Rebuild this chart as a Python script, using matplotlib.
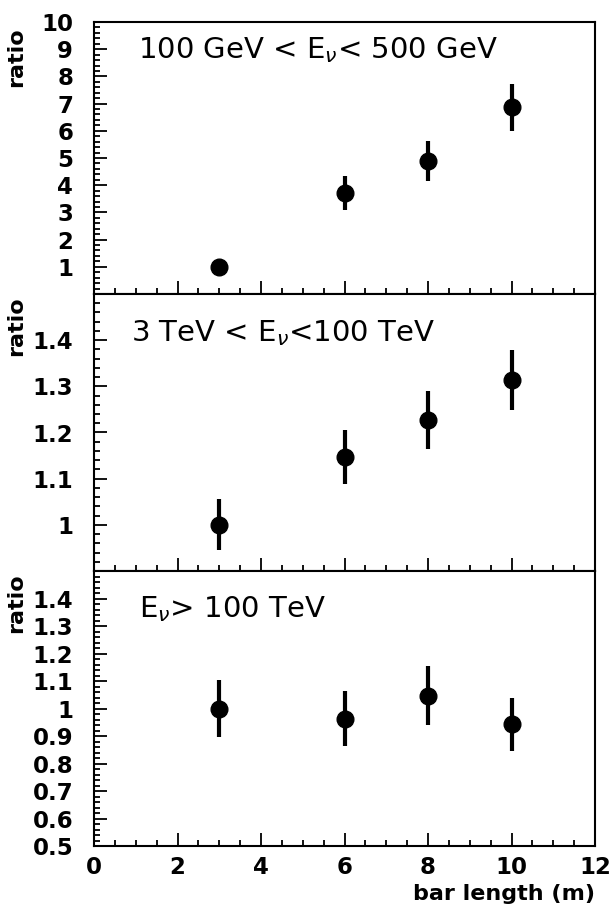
import matplotlib
matplotlib.use('Agg')
import matplotlib.pyplot as plt
from matplotlib.ticker import MultipleLocator, FixedLocator, FixedFormatter
import numpy as np

# bar length in m
bar_length = [3, 6, 8, 10]

# 100 GeV < E_nu < 500 GeV
ratio_low = [1.0, 3.7, 4.9, 6.86]
err_low = [0.0, 0.63, 0.73, 0.86]

# 3 TeV < E_nu < 100 TeV
ratio_mid = [1.0, 1.147, 1.227, 1.313]
err_mid = [0.055, 0.059, 0.063, 0.065]

# E_nu > 100 TeV
ratio_high = [1.0, 0.962, 1.047, 0.942]
err_high = [0.105, 0.1, 0.107, 0.097]

x_ticks = [0, 2, 4, 6, 8, 10, 12]
low_ticks = [1, 2, 3, 4, 5, 6, 7, 8, 9, 10]
mid_ticks = [1.0, 1.1, 1.2, 1.3, 1.4]
mid_labels = ['1', '1.1', '1.2', '1.3', '1.4']
high_ticks = [0.5, 0.6, 0.7, 0.8, 0.9, 1.0, 1.1, 1.2, 1.3, 1.4]
high_labels = ['0.5', '0.6', '0.7', '0.8', '0.9', '1', '1.1', '1.2', '1.3', '1.4']

plt.rcParams['font.family'] = ['DejaVu Sans']
plt.rcParams['mathtext.fontset'] = 'dejavusans'

fig = plt.figure(figsize=(6.14, 9.05), dpi=100)
W, H = 614.0, 905.0
left, right = 94 / W, 595 / W
panels = [(22, 294), (294, 571), (571, 846)]
axes = []
for top, bot in panels:
    axes.append(fig.add_axes([left, 1 - bot / H, right - left, (bot - top) / H]))

def style(ax, yminor):
    for s in ax.spines.values():
        s.set_linewidth(1.5)
    ax.set_xlim(0, 12)
    ax.xaxis.set_major_locator(FixedLocator(x_ticks))
    ax.xaxis.set_minor_locator(MultipleLocator(0.5))
    ax.yaxis.set_minor_locator(MultipleLocator(yminor))
    ax.tick_params(which='both', direction='in', top=False, right=False, width=1.3)
    ax.tick_params(which='major', length=9.5)
    ax.tick_params(which='minor', length=4.5)
    ax.tick_params(axis='y', pad=15, labelsize=16.5)
    ax.tick_params(axis='x', pad=7, labelsize=16.5)
    for lab in ax.get_xticklabels() + ax.get_yticklabels():
        lab.set_fontweight('bold')

data = [(ratio_low, err_low), (ratio_mid, err_mid), (ratio_high, err_high)]
for ax, (r, e) in zip(axes, data):
    ax.errorbar(bar_length, r, yerr=e, fmt='o', color='black', ms=12,
                elinewidth=3, capsize=0)

ax1, ax2, ax3 = axes
ax1.set_ylim(0, 10)
ax1.yaxis.set_major_locator(FixedLocator(low_ticks))
ax2.set_ylim(0.9, 1.5)
ax2.yaxis.set_major_locator(FixedLocator(mid_ticks))
ax2.yaxis.set_major_formatter(FixedFormatter(mid_labels))
ax3.set_ylim(0.5, 1.5)
ax3.yaxis.set_major_locator(FixedLocator(high_ticks))
ax3.yaxis.set_major_formatter(FixedFormatter(high_labels))

style(ax1, 0.2)
style(ax2, 0.02)
style(ax3, 0.02)
ax1.tick_params(labelbottom=False)
ax2.tick_params(labelbottom=False)

for ax, ytop in zip(axes, [0.98, 0.99, 0.99]):
    ax.text(-0.155, ytop, 'ratio', transform=ax.transAxes, rotation=90,
            ha='center', va='top', fontsize=16, fontweight='bold')

ax1.text(0.088, 0.867, r'100 GeV < E$_\nu$< 500 GeV', transform=ax1.transAxes,
         fontsize=21, va='baseline')
ax2.text(0.074, 0.829, r'3 TeV < E$_\nu$<100 TeV', transform=ax2.transAxes,
         fontsize=21, va='baseline')
ax3.text(0.09, 0.833, r'E$_\nu$> 100 TeV', transform=ax3.transAxes,
         fontsize=21, va='baseline')

ax3.set_xlabel('bar length (m)', loc='right', fontsize=16, fontweight='bold', labelpad=4)

fig.savefig('out.png', dpi=100)
